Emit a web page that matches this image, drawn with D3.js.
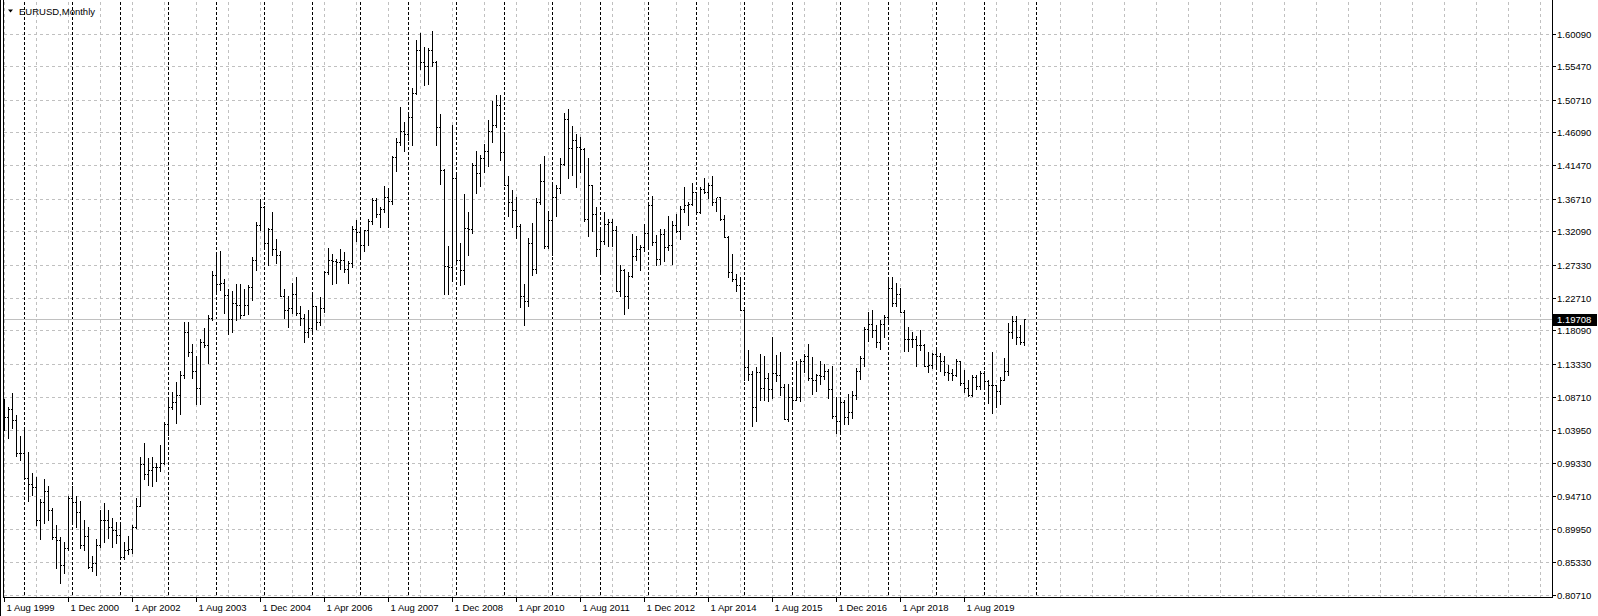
<!DOCTYPE html>
<html lang="en">
<head>
  <meta charset="UTF-8">
  <title>EURUSD, Monthly</title>
  <style>
    * { box-sizing: border-box; margin: 0; padding: 0; }
    body { background: #fff; width: 1598px; height: 616px; overflow: hidden; }
    svg { display: block; font-family: Tahoma, "Liberation Sans", Arial, sans-serif; }
    .grid line { stroke: #c0c0c0; stroke-width: 1; stroke-dasharray: 3,3; }
    .sep line { stroke: #000; stroke-width: 1; stroke-dasharray: 3,2; }
    .bars rect { fill: #000; }
    .axis-text { font-size: 9.5px; fill: #000; }
  </style>
</head>
<body>
  <svg></svg>
  <script src="https://d3js.org/d3.v7.min.js"></script>
  <script>
    // monthly bars, first one is Aug 1999, last one Nov 2020
    const firstMonth = new Date(1999, 7, 1);

    const open = [
      1.0698, 1.0580, 1.0690, 1.0540, 1.0080,                                              // 1999
      1.0070, 0.9715, 0.9640, 0.9590, 0.9130, 0.9380, 0.9530, 0.9270, 0.8890, 0.8840, 0.8490, 0.8730, // 2000
      0.9440, 0.9380, 0.9240, 0.8770, 0.8900, 0.8460, 0.8510, 0.8770, 0.9130, 0.9120, 0.9030, 0.8980, // 2001
      0.8910, 0.8600, 0.8700, 0.8720, 0.9020, 0.9330, 0.9920, 0.9780, 0.9830, 0.9870, 0.9880, 0.9930, // 2002
      1.0490, 1.0730, 1.0790, 1.0900, 1.1180, 1.1790, 1.1500, 1.1240, 1.0990, 1.1650, 1.1600, 1.1990, // 2003
      1.2590, 1.2470, 1.2480, 1.2310, 1.1970, 1.2200, 1.2170, 1.2020, 1.2170, 1.2420, 1.2800, 1.3300, // 2004
      1.3550, 1.3040, 1.3240, 1.2960, 1.2870, 1.2300, 1.2100, 1.2120, 1.2330, 1.2050, 1.1990, 1.1790, // 2005
      1.1840, 1.2150, 1.1920, 1.2120, 1.2630, 1.2810, 1.2790, 1.2770, 1.2810, 1.2670, 1.2760, 1.3240, // 2006
      1.3200, 1.3010, 1.3230, 1.3360, 1.3660, 1.3450, 1.3530, 1.3690, 1.3640, 1.4260, 1.4480, 1.4630, // 2007
      1.4590, 1.4830, 1.5170, 1.5780, 1.5610, 1.5550, 1.5770, 1.5600, 1.4680, 1.4080, 1.2720, 1.2700, // 2008
      1.3970, 1.2800, 1.2660, 1.3250, 1.3240, 1.4150, 1.4030, 1.4250, 1.4340, 1.4630, 1.4720, 1.5000, // 2009
      1.4330, 1.3860, 1.3620, 1.3510, 1.3290, 1.2290, 1.2230, 1.3050, 1.2680, 1.3630, 1.3920, 1.3000, // 2010
      1.3370, 1.3690, 1.3820, 1.4160, 1.4800, 1.4390, 1.4500, 1.4400, 1.4380, 1.3390, 1.3860, 1.3450, // 2011
      1.2960, 1.3080, 1.3310, 1.3340, 1.3230, 1.2370, 1.2660, 1.2300, 1.2580, 1.2860, 1.2960, 1.2990, // 2012
      1.3190, 1.3580, 1.3060, 1.2820, 1.3170, 1.2990, 1.3010, 1.3300, 1.3220, 1.3520, 1.3580, 1.3590, // 2013
      1.3760, 1.3490, 1.3810, 1.3770, 1.3870, 1.3630, 1.3690, 1.3390, 1.3130, 1.2630, 1.2530, 1.2450, // 2014
      1.2100, 1.1290, 1.1190, 1.0730, 1.1220, 1.0990, 1.1140, 1.0980, 1.1210, 1.1180, 1.1000, 1.0560, // 2015
      1.0860, 1.0830, 1.0870, 1.1380, 1.1450, 1.1130, 1.1100, 1.1170, 1.1160, 1.1240, 1.0980, 1.0590, // 2016
      1.0520, 1.0800, 1.0580, 1.0650, 1.0900, 1.1240, 1.1420, 1.1830, 1.1900, 1.1810, 1.1640, 1.1900, // 2017
      1.2000, 1.2410, 1.2190, 1.2320, 1.2070, 1.1690, 1.1680, 1.1690, 1.1600, 1.1600, 1.1310, 1.1320, // 2018
      1.1470, 1.1450, 1.1370, 1.1220, 1.1210, 1.1170, 1.1370, 1.1070, 1.0990, 1.0900, 1.1150, 1.1020, // 2019
      1.1210, 1.1090, 1.1030, 1.1030, 1.0950, 1.1100, 1.1230, 1.1780, 1.1940, 1.1720, 1.1650          // 2020
    ];
    const high = [
      1.0840, 1.0730, 1.0920, 1.0610, 1.0310,
      1.0420, 1.0090, 0.9790, 0.9740, 0.9420, 0.9710, 0.9610, 0.9300, 0.9050, 0.8880, 0.8820, 0.9460,
      0.9610, 0.9470, 0.9400, 0.9120, 0.9030, 0.8610, 0.8850, 0.9270, 0.9360, 0.9270, 0.9150, 0.9100,
      0.9080, 0.8820, 0.8900, 0.9060, 0.9430, 1.0020, 1.0210, 1.0000, 1.0010, 0.9930, 1.0190, 1.0510,
      1.0870, 1.0940, 1.1080, 1.1230, 1.1930, 1.1930, 1.1620, 1.1440, 1.1680, 1.1840, 1.2020, 1.2650,
      1.2900, 1.2930, 1.2540, 1.2400, 1.2360, 1.2470, 1.2470, 1.2390, 1.2450, 1.2850, 1.3340, 1.3670,
      1.3570, 1.3260, 1.3480, 1.3100, 1.2930, 1.2390, 1.2300, 1.2480, 1.2560, 1.2160, 1.2040, 1.2100,
      1.2320, 1.2160, 1.2280, 1.2650, 1.2980, 1.2890, 1.2820, 1.2960, 1.2920, 1.2790, 1.3280, 1.3370,
      1.3270, 1.3230, 1.3380, 1.3680, 1.3680, 1.3550, 1.3850, 1.3820, 1.4280, 1.4530, 1.4970, 1.4760,
      1.4880, 1.5240, 1.5910, 1.6020, 1.5820, 1.5800, 1.6040, 1.5620, 1.4870, 1.4090, 1.3000, 1.4720,
      1.4000, 1.3050, 1.3740, 1.3480, 1.4170, 1.4340, 1.4290, 1.4450, 1.4780, 1.5060, 1.5140, 1.5140,
      1.4580, 1.3990, 1.3800, 1.3690, 1.3320, 1.2470, 1.3110, 1.3330, 1.3680, 1.4160, 1.4280, 1.3500,
      1.3860, 1.3860, 1.4250, 1.4880, 1.4940, 1.4700, 1.4580, 1.4550, 1.4390, 1.4250, 1.3870, 1.3550,
      1.3230, 1.3480, 1.3390, 1.3380, 1.3280, 1.2740, 1.2670, 1.2630, 1.3170, 1.3140, 1.3020, 1.3310,
      1.3580, 1.3710, 1.3160, 1.3240, 1.3240, 1.3420, 1.3350, 1.3450, 1.3570, 1.3830, 1.3620, 1.3900,
      1.3770, 1.3830, 1.3970, 1.3900, 1.3990, 1.3680, 1.3700, 1.3440, 1.3140, 1.2890, 1.2600, 1.2570,
      1.2110, 1.1530, 1.1240, 1.1290, 1.1470, 1.1440, 1.1210, 1.1710, 1.1460, 1.1500, 1.1050, 1.1050,
      1.0990, 1.1380, 1.1400, 1.1470, 1.1620, 1.1430, 1.1190, 1.1370, 1.1330, 1.1260, 1.1300, 1.0870,
      1.0830, 1.0830, 1.0910, 1.0950, 1.1270, 1.1450, 1.1850, 1.2070, 1.2090, 1.1880, 1.1960, 1.2020,
      1.2540, 1.2560, 1.2480, 1.2410, 1.2100, 1.1850, 1.1790, 1.1730, 1.1820, 1.1620, 1.1500, 1.1490,
      1.1570, 1.1490, 1.1450, 1.1320, 1.1260, 1.1410, 1.1380, 1.1250, 1.1110, 1.1180, 1.1170, 1.1240,
      1.1240, 1.1100, 1.1500, 1.1040, 1.1150, 1.1420, 1.1910, 1.2010, 1.2010, 1.1880, 1.1971
    ];
    const low = [
      1.0400, 1.0290, 1.0430, 1.0030, 0.9980,
      0.9700, 0.9400, 0.9480, 0.9060, 0.8850, 0.9080, 0.9130, 0.8860, 0.8450, 0.8230, 0.8380, 0.8700,
      0.9100, 0.9030, 0.8730, 0.8700, 0.8440, 0.8400, 0.8350, 0.8750, 0.8820, 0.8870, 0.8750, 0.8800,
      0.8570, 0.8580, 0.8650, 0.8660, 0.9010, 0.9320, 0.9700, 0.9620, 0.9610, 0.9670, 0.9820, 0.9920,
      1.0330, 1.0690, 1.0500, 1.0620, 1.1140, 1.1440, 1.1130, 1.0770, 1.0760, 1.1570, 1.1350, 1.1950,
      1.2350, 1.2380, 1.2050, 1.1760, 1.1790, 1.1960, 1.1980, 1.2020, 1.2040, 1.2240, 1.2660, 1.3230,
      1.2980, 1.2740, 1.2870, 1.2760, 1.2300, 1.1990, 1.1860, 1.2050, 1.2030, 1.1880, 1.1640, 1.1710,
      1.1800, 1.1830, 1.1880, 1.2070, 1.2600, 1.2460, 1.2480, 1.2680, 1.2640, 1.2480, 1.2710, 1.3070,
      1.2860, 1.2930, 1.3010, 1.3310, 1.3410, 1.3270, 1.3490, 1.3270, 1.3590, 1.4060, 1.4430, 1.4350,
      1.4500, 1.4430, 1.5160, 1.5510, 1.5280, 1.5300, 1.5550, 1.4430, 1.3880, 1.2330, 1.2330, 1.2500,
      1.2770, 1.2450, 1.2460, 1.2880, 1.3180, 1.3750, 1.3850, 1.4050, 1.4140, 1.4480, 1.4690, 1.4220,
      1.3860, 1.3430, 1.3270, 1.3110, 1.2140, 1.1880, 1.2150, 1.2590, 1.2620, 1.3600, 1.2970, 1.2970,
      1.2870, 1.3430, 1.3750, 1.4150, 1.3970, 1.4010, 1.3840, 1.4050, 1.3360, 1.3150, 1.3220, 1.2860,
      1.2620, 1.3030, 1.3000, 1.3000, 1.2360, 1.2290, 1.2040, 1.2130, 1.2560, 1.2800, 1.2660, 1.2930,
      1.3000, 1.3020, 1.2740, 1.2750, 1.2790, 1.2950, 1.2750, 1.3200, 1.3100, 1.3480, 1.3300, 1.3580,
      1.3490, 1.3470, 1.3750, 1.3680, 1.3580, 1.3500, 1.3370, 1.3130, 1.2570, 1.2500, 1.2360, 1.2100,
      1.1100, 1.1100, 1.0460, 1.0520, 1.0820, 1.0820, 1.0810, 1.0850, 1.1090, 1.0900, 1.0560, 1.0520,
      1.0710, 1.0820, 1.0810, 1.1220, 1.1100, 1.0910, 1.0950, 1.1050, 1.1120, 1.0850, 1.0570, 1.0350,
      1.0340, 1.0490, 1.0490, 1.0570, 1.0840, 1.1120, 1.1310, 1.1660, 1.1720, 1.1570, 1.1550, 1.1720,
      1.1920, 1.2150, 1.2150, 1.2070, 1.1510, 1.1510, 1.1570, 1.1300, 1.1530, 1.1300, 1.1220, 1.1270,
      1.1290, 1.1230, 1.1180, 1.1110, 1.1110, 1.1160, 1.1030, 1.0930, 1.0880, 1.0880, 1.0980, 1.0980,
      1.0990, 1.0780, 1.0640, 1.0730, 1.0770, 1.1100, 1.1170, 1.1700, 1.1610, 1.1620, 1.1600
    ];
    const close = [
      1.0580, 1.0690, 1.0540, 1.0080, 1.0070,
      0.9715, 0.9640, 0.9590, 0.9130, 0.9380, 0.9530, 0.9270, 0.8890, 0.8840, 0.8490, 0.8730, 0.9440,
      0.9380, 0.9240, 0.8770, 0.8900, 0.8460, 0.8510, 0.8770, 0.9130, 0.9120, 0.9030, 0.8980, 0.8910,
      0.8600, 0.8700, 0.8720, 0.9020, 0.9330, 0.9920, 0.9780, 0.9830, 0.9870, 0.9880, 0.9930, 1.0490,
      1.0730, 1.0790, 1.0900, 1.1180, 1.1790, 1.1500, 1.1240, 1.0990, 1.1650, 1.1600, 1.1990, 1.2590,
      1.2470, 1.2480, 1.2310, 1.1970, 1.2200, 1.2170, 1.2020, 1.2170, 1.2420, 1.2800, 1.3300, 1.3550,
      1.3040, 1.3240, 1.2960, 1.2870, 1.2300, 1.2100, 1.2120, 1.2330, 1.2050, 1.1990, 1.1790, 1.1840,
      1.2150, 1.1920, 1.2120, 1.2630, 1.2810, 1.2790, 1.2770, 1.2810, 1.2670, 1.2760, 1.3240, 1.3200,
      1.3010, 1.3230, 1.3360, 1.3660, 1.3450, 1.3530, 1.3690, 1.3640, 1.4260, 1.4480, 1.4630, 1.4590,
      1.4830, 1.5170, 1.5780, 1.5610, 1.5550, 1.5770, 1.5600, 1.4680, 1.4080, 1.2720, 1.2700, 1.3970,
      1.2800, 1.2660, 1.3250, 1.3240, 1.4150, 1.4030, 1.4250, 1.4340, 1.4630, 1.4720, 1.5000, 1.4330,
      1.3860, 1.3620, 1.3510, 1.3290, 1.2290, 1.2230, 1.3050, 1.2680, 1.3630, 1.3920, 1.3000, 1.3370,
      1.3690, 1.3820, 1.4160, 1.4800, 1.4390, 1.4500, 1.4400, 1.4380, 1.3390, 1.3860, 1.3450, 1.2960,
      1.3080, 1.3310, 1.3340, 1.3230, 1.2370, 1.2660, 1.2300, 1.2580, 1.2860, 1.2960, 1.2990, 1.3190,
      1.3580, 1.3060, 1.2820, 1.3170, 1.2990, 1.3010, 1.3300, 1.3220, 1.3520, 1.3580, 1.3590, 1.3760,
      1.3490, 1.3810, 1.3770, 1.3870, 1.3630, 1.3690, 1.3390, 1.3130, 1.2630, 1.2530, 1.2450, 1.2100,
      1.1290, 1.1190, 1.0730, 1.1220, 1.0990, 1.1140, 1.0980, 1.1210, 1.1180, 1.1000, 1.0560, 1.0860,
      1.0830, 1.0870, 1.1380, 1.1450, 1.1130, 1.1100, 1.1170, 1.1160, 1.1240, 1.0980, 1.0590, 1.0520,
      1.0800, 1.0580, 1.0650, 1.0900, 1.1240, 1.1420, 1.1830, 1.1900, 1.1810, 1.1640, 1.1900, 1.2000,
      1.2410, 1.2190, 1.2320, 1.2070, 1.1690, 1.1680, 1.1690, 1.1600, 1.1600, 1.1310, 1.1320, 1.1470,
      1.1450, 1.1370, 1.1220, 1.1210, 1.1170, 1.1370, 1.1070, 1.0990, 1.0900, 1.1150, 1.1020, 1.1210,
      1.1090, 1.1030, 1.1030, 1.0950, 1.1100, 1.1230, 1.1780, 1.1940, 1.1720, 1.1650, 1.19708
    ];

    const priceTicks = [1.60090, 1.55470, 1.50710, 1.46090, 1.41470, 1.36710, 1.32090, 1.27330, 1.22710,
                        1.18090, 1.13330, 1.08710, 1.03950, 0.99330, 0.94710, 0.89950, 0.85330, 0.80710];
    const timeLabels = ['1 Aug 1999', '1 Dec 2000', '1 Apr 2002', '1 Aug 2003', '1 Dec 2004', '1 Apr 2006',
                        '1 Aug 2007', '1 Dec 2008', '1 Apr 2010', '1 Aug 2011', '1 Dec 2012', '1 Apr 2014',
                        '1 Aug 2015', '1 Dec 2016', '1 Apr 2018', '1 Aug 2019'];
    const lastPrice = 1.19708;
    const title = 'EURUSD,Monthly';

    const width = 1598;
    const height = 616;
    const plotRight = 1552;
    const plotBottom = 597;
    const barStep = 4;

    const months = d3.timeMonth.range(firstMonth, d3.timeMonth.offset(firstMonth, close.length));
    const bars = months.map((m, i) => ({
      date: m, o: open[i], h: high[i], l: low[i], c: close[i]
    }));

    const svg = d3.select('svg')
      .attr('width', width)
      .attr('height', height);

    // bar index -> pixel centre; extends to the right into the empty area
    const x = d3.scaleLinear()
      .domain([0, bars.length - 1])
      .range([4.5, 4.5 + barStep * (bars.length - 1)]);
    const y = d3.scaleLinear()
      .domain([0.80710, 1.60090])
      .range([594.5, 33.5]);
    const py = v => Math.round(y(v));
    const monthIndex = d => d3.timeMonth.count(firstMonth, d);

    svg.append('rect')
      .attr('width', width).attr('height', height)
      .attr('fill', '#fff');

    // grid
    const grid = svg.append('g').attr('class', 'grid');
    grid.selectAll('.h')
      .data(priceTicks)
      .enter().append('line')
      .attr('x1', 4).attr('x2', plotRight)
      .attr('y1', d => py(d) + 0.5).attr('y2', d => py(d) + 0.5);

    const lastIdx = Math.floor(x.invert(plotRight));
    grid.selectAll('.v')
      .data(d3.range(0, lastIdx + 1, 8))
      .enter().append('line')
      .attr('x1', d => x(d)).attr('x2', d => x(d))
      .attr('y1', 2).attr('y2', plotBottom);

    // period separators: every January, plus the one MT4 drew past the last bar
    const sepIdx = bars.filter(b => b.date.getMonth() === 0).map(b => monthIndex(b.date));
    sepIdx.push(monthIndex(new Date(2021, 1, 1)));
    svg.append('g').attr('class', 'sep')
      .selectAll('line')
      .data(sepIdx)
      .enter().append('line')
      .attr('x1', d => x(d)).attr('x2', d => x(d))
      .attr('y1', 2).attr('y2', plotBottom);

    // last price line
    svg.append('line')
      .attr('x1', 4).attr('x2', plotRight)
      .attr('y1', py(lastPrice) + 0.5).attr('y2', py(lastPrice) + 0.5)
      .attr('stroke', '#c0c0c0');

    // OHLC bars
    const g = svg.append('g').attr('class', 'bars').attr('shape-rendering', 'crispEdges');
    const bar = g.selectAll('g')
      .data(bars)
      .enter().append('g');
    bar.append('rect')
      .attr('x', (d, i) => x(i) - 0.5)
      .attr('y', d => py(d.h))
      .attr('width', 1)
      .attr('height', d => py(d.l) - py(d.h) + 1);
    bar.append('rect')
      .attr('x', (d, i) => x(i) - 1.5)
      .attr('y', d => py(d.o))
      .attr('width', 1).attr('height', 1);
    bar.append('rect')
      .attr('x', (d, i) => x(i) + 0.5)
      .attr('y', d => py(d.c))
      .attr('width', 1).attr('height', 1);

    // frame
    const frame = svg.append('g').attr('stroke', '#000').attr('shape-rendering', 'crispEdges');
    frame.append('line').attr('x1', 0.5).attr('x2', 0.5).attr('y1', 0).attr('y2', height);
    frame.append('line').attr('x1', 3.5).attr('x2', 3.5).attr('y1', 0).attr('y2', plotBottom + 0.5);
    frame.append('line').attr('x1', 3).attr('x2', plotRight + 0.5).attr('y1', plotBottom + 0.5).attr('y2', plotBottom + 0.5);
    frame.append('line').attr('x1', plotRight + 0.5).attr('x2', plotRight + 0.5).attr('y1', 0).attr('y2', plotBottom + 0.5);

    // price axis
    const pa = svg.append('g');
    pa.selectAll('line')
      .data(priceTicks)
      .enter().append('line')
      .attr('x1', plotRight).attr('x2', plotRight + 4)
      .attr('y1', d => py(d) + 0.5).attr('y2', d => py(d) + 0.5)
      .attr('stroke', '#000');
    pa.selectAll('text')
      .data(priceTicks)
      .enter().append('text')
      .attr('class', 'axis-text')
      .attr('x', 1557)
      .attr('y', d => py(d) + 4)
      .text(d => d.toFixed(5));

    // last price tag
    svg.append('rect')
      .attr('x', plotRight + 1).attr('y', py(lastPrice) - 5)
      .attr('width', 44).attr('height', 12)
      .attr('fill', '#000');
    svg.append('text')
      .attr('class', 'axis-text')
      .attr('x', 1557).attr('y', py(lastPrice) + 4)
      .style('fill', '#fff')
      .text(lastPrice.toFixed(5));

    // time axis
    const parseLabel = d3.timeParse('%d %b %Y');
    const ta = svg.append('g');
    const labelIdx = timeLabels.map(t => ({ t, i: monthIndex(parseLabel(t)) }));
    ta.selectAll('line')
      .data(labelIdx)
      .enter().append('line')
      .attr('x1', d => x(d.i)).attr('x2', d => x(d.i))
      .attr('y1', plotBottom).attr('y2', plotBottom + 5)
      .attr('stroke', '#000');
    ta.selectAll('text')
      .data(labelIdx)
      .enter().append('text')
      .attr('class', 'axis-text')
      .attr('x', d => x(d.i) + 2)
      .attr('y', 611)
      .text(d => d.t);

    // title
    svg.append('path')
      .attr('d', 'M8,9.5 L13,9.5 L10.5,12.5 Z')
      .attr('fill', '#000');
    svg.append('text')
      .attr('x', 19).attr('y', 14.5)
      .attr('font-size', '9.5px')
      .text(title);
  </script>
</body>
</html>
